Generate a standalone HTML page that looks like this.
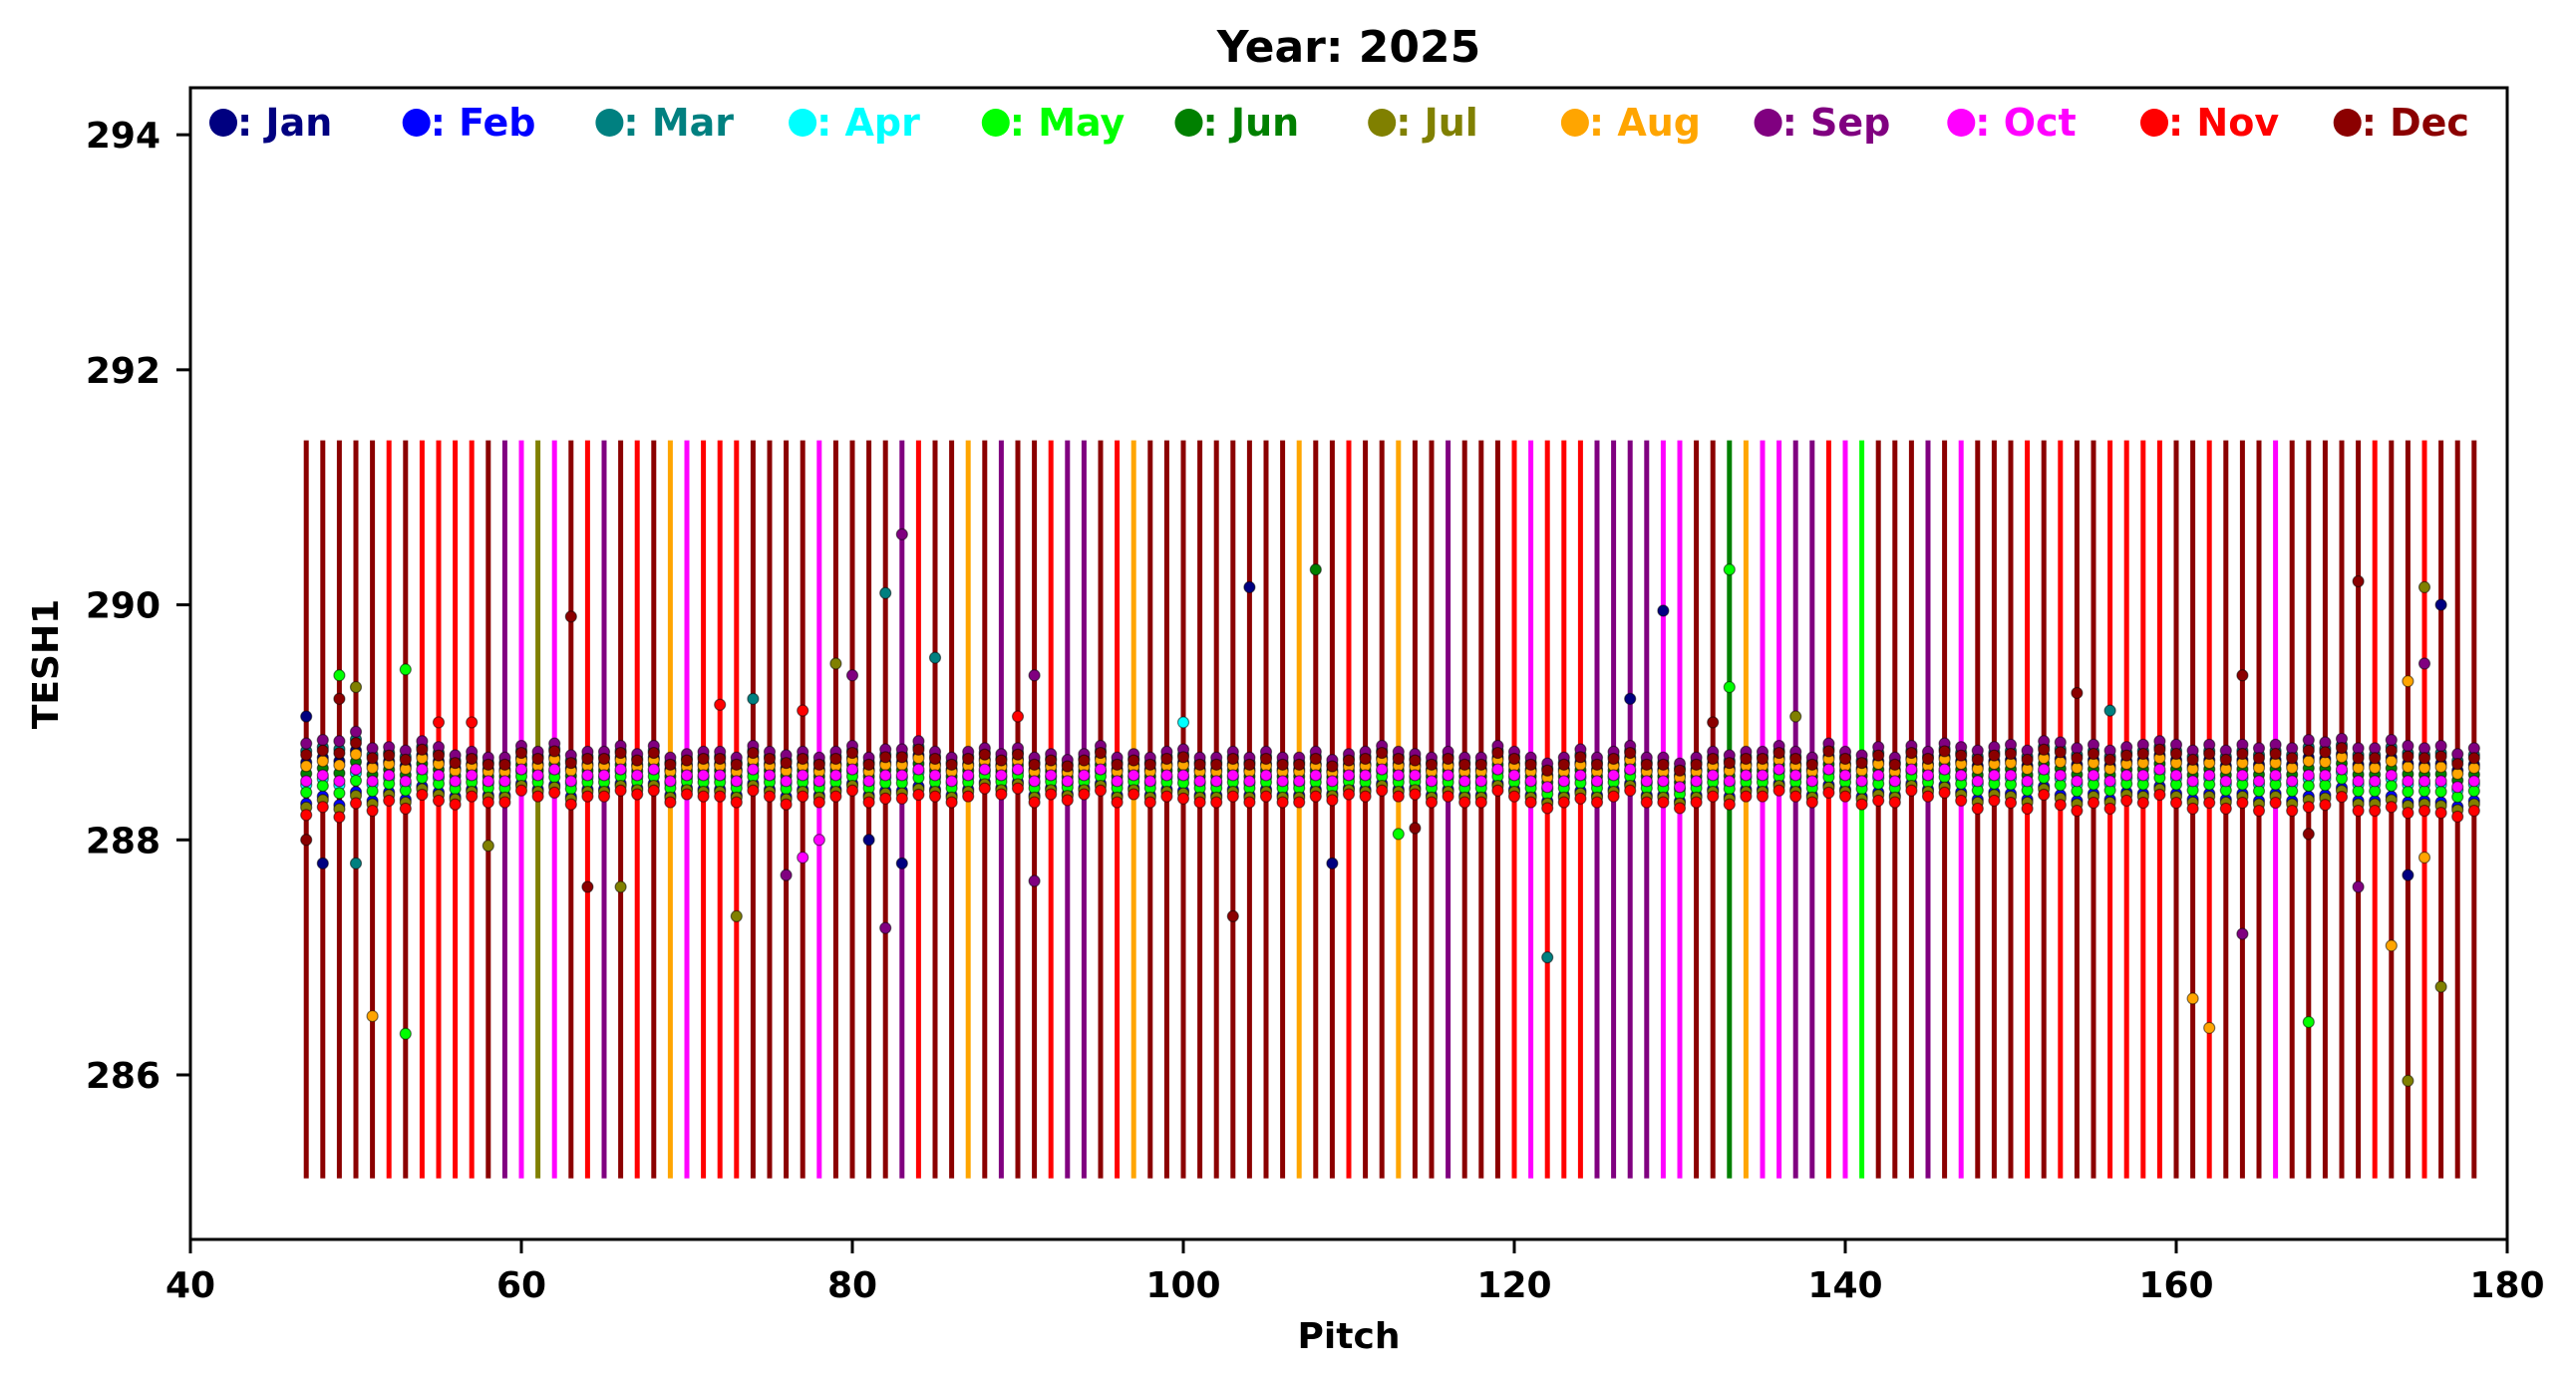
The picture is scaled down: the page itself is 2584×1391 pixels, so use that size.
<!DOCTYPE html>
<html><head><meta charset="utf-8"><style>
html,body{margin:0;padding:0;background:#fff;}
svg{display:block;font-family:"DejaVu Sans","Liberation Sans",sans-serif;font-weight:bold;}
</style></head><body>
<svg id="chart" width="2584" height="1391" viewBox="0 0 2584 1391" xmlns="http://www.w3.org/2000/svg">
<rect width="2584" height="1391" fill="#fff"/>
<text x="1353" y="62" font-size="44" text-anchor="middle">Year: 2025</text>
<g id="lines"></g>
<g id="points"></g>
<rect x="191" y="88" width="2324" height="1155" fill="none" stroke="#000" stroke-width="3"/>
<g id="xticks"></g>
<g id="yticks"></g>
<text x="1353" y="1352" font-size="36" text-anchor="middle">Pitch</text>
<text x="0" y="0" font-size="36" text-anchor="middle" transform="translate(58,666) rotate(-90)">TESH1</text>
<g id="legend"></g>
</svg>
<script>
const monthNames = ["Jan","Feb","Mar","Apr","May","Jun","Jul","Aug","Sep","Oct","Nov","Dec"];
const monthColors = ["#000080","#0000ff","#008080","#00ffff","#00ff00","#008000","#808000","#ffa500","#800080","#ff00ff","#ff0000","#8b0000"];
const xTicks = [40,60,80,100,120,140,160,180];
const yTicks = [286,288,290,292,294];
const pitchStart = 47;
const lineMonth = [12,12,12,12,12,11,12,11,11,11, 11,12,9,10,7,10,12,11,9,12, 11,12,8,10,11,11,11,12,12,12, 12,10,12,12,12,12,9,11,12,12, 8,12,9,12,12,11,9,9,12,11, 8,12,12,12,12,12,12,12,12,12, 8,12,12,11,12,12,
 8,12,12,9,12,12,12,11,10,11, 11,11,9,9,9,9,10,10,12,12, 6,8,10,10,9,9,11,10,5,12, 12,12,9,12,10,12,12,12,11,12, 11,12,12,11,11,11,11,12,12,11, 12,12,12,10,12,12,12,12,12,11, 12,12,11,12,12,12];
const lineLow = 285.12;
const lineHigh = 291.4;
const clusterMid = [288.5,288.55,288.5,288.6,288.5,288.55,288.5,288.6,288.55,288.5, 288.55,288.5,288.5,288.6,288.55,288.6,288.5,288.55,288.55,288.6, 288.55,288.6,288.5,288.55,288.55,288.55,288.5,288.6,288.55,288.5, 288.55,288.5,288.55,288.6,288.5,288.55,288.55,288.6,288.55,288.5, 288.55,288.6,288.55,288.6,288.5,288.55,288.5,288.55,288.6,288.5, 288.55,288.5,288.55,288.55,288.5,288.5,288.55,288.5,288.55,288.5,
 288.5,288.55,288.5,288.55,288.55,288.6,288.55,288.55,288.5,288.55, 288.5,288.5,288.6,288.55,288.5,288.45,288.5,288.55,288.5,288.55, 288.6,288.5,288.5,288.45,288.5,288.55,288.5,288.55,288.55,288.6, 288.55,288.5,288.6,288.55,288.5,288.55,288.5,288.6,288.55,288.6, 288.55,288.5,288.55,288.55,288.5,288.6,288.55,288.5,288.55,288.5, 288.55,288.55,288.6,288.55,288.5,288.55,288.5,288.55,288.5,288.55, 288.5,288.55,288.55,288.6,288.5,288.5,288.55,288.5,288.5,288.5, 288.45,288.5];
const clusterSpread = [1.6,1.5,1.7,1.6,1.4,1.2,1.3,1.2,1.2,1.1, 1.0,1.0,1.0,1.0,1.0,1.1,1.1,1.0,1.0,1.0, 0.9,1.0,1.0,0.9,1.0,1.0,1.0,1.0,1.0,1.1, 1.0,1.0,1.0,1.0,1.0,1.1,1.1,1.2,1.0,1.0, 1.0,0.9,0.9,0.9,1.0,0.9,0.9,0.9,1.0,1.0, 0.9,1.0,1.0,1.1,1.0,1.0,1.0,1.0,1.0,1.0,
 1.0,1.0,0.9,0.9,1.0,1.0,1.0,0.9,1.0,1.0, 1.0,1.0,1.0,1.0,1.0,1.0,1.0,1.1,1.0,1.0, 1.0,1.0,1.0,1.0,1.0,1.0,1.1,1.0,1.0,1.0, 1.0,1.0,1.1,1.0,1.1,1.2,1.0,1.0,1.0,1.1, 1.2,1.3,1.2,1.3,1.3,1.2,1.4,1.4,1.3,1.3, 1.2,1.3,1.2,1.3,1.3,1.3,1.3,1.3,1.4,1.3, 1.4,1.5,1.4,1.3,1.4,1.4,1.5,1.5,1.4,1.5, 1.4,1.4];
const monthOffset = [0.1,-0.12,0.16,-0.02,-0.06,0.04,-0.14,0.08,0.2,0.0,-0.18,0.14];
const outPitch = [47,47,48,49,49,50,50,51,53,53,55,57,58,63,64,66,72,73,74,76,77,77,78,79,80,81,82,82,83,83,85,90,91,91,100,103,104,108,109,113,114,122,127,129,132,133,133,137,154,156,161,162,164,164,168,168,171,171,173,174,174,174,175,175,176,176,175];
const outValue = [289.05,288.0,287.8,289.4,289.2,289.3,287.8,286.5,289.45,286.35,289.0,289.0,287.95,289.9,287.6,287.6,289.15,287.35,289.2,287.7,289.1,287.85,288.0,289.5,289.4,288.0,290.1,287.25,290.6,287.8,289.55,289.05,289.4,287.65,289.0,287.35,290.15,290.3,287.8,288.05,288.1,287.0,289.2,289.95,289.0,290.3,289.3,289.05,289.25,289.1,286.65,286.4,289.4,287.2,286.45,288.05,290.2,287.6,287.1,289.35,287.7,285.95,290.15,289.5,290.0,286.75,287.85];
const outMonth = [1,12,1,5,12,7,3,8,5,5,11,11,7,12,12,7,11,7,3,9,11,10,10,7,9,1,3,9,9,1,3,11,9,9,4,12,1,6,1,5,12,3,1,1,12,5,5,7,12,3,8,8,12,9,5,12,12,9,8,8,1,7,7,9,1,7,8];

const X0=191, X1=2515, Y0=1243, Y1=88;
const xMin=40, xMax=180, yMin=284.6, yMax=294.4;
function sx(v){return X0+(v-xMin)/(xMax-xMin)*(X1-X0);}
function sy(v){return Y0-(v-yMin)/(yMax-yMin)*(Y0-Y1);}
const NS="http://www.w3.org/2000/svg";
function mk(tag, attrs, parent){const e=document.createElementNS(NS,tag);for(const k in attrs)e.setAttribute(k,attrs[k]);parent.appendChild(e);return e;}

const gL=document.getElementById('lines');
lineMonth.forEach((m,i)=>{
  const p=pitchStart+i;
  const l=mk('line',{x1:sx(p),x2:sx(p),y1:sy(lineLow),y2:sy(lineHigh),stroke:monthColors[m-1],'stroke-width':5},gL);
  
  
});
const gP=document.getElementById('points');
clusterMid.forEach((mid,i)=>{
  const p=pitchStart+i;
  monthOffset.forEach((o,m)=>{
    const c=mk('circle',{cx:sx(p),cy:sy(mid+o*clusterSpread[i]),r:5.5,fill:monthColors[m],stroke:'rgba(0,0,0,0.5)','stroke-width':1.2},gP);
    
    
  });
});
outPitch.forEach((p,i)=>{
  const c=mk('circle',{cx:sx(p),cy:sy(outValue[i]),r:5.5,fill:monthColors[outMonth[i]-1],stroke:'rgba(0,0,0,0.5)','stroke-width':1.2},gP);
  
  
});
const gX=document.getElementById('xticks');
xTicks.forEach(t=>{
  const tk=mk('line',{x1:sx(t),x2:sx(t),y1:Y0,y2:Y0+14,stroke:'#000','stroke-width':3},gX);
  
  
  const tx=mk('text',{x:sx(t),y:Y0+58,'font-size':36,'text-anchor':'middle'},gX);
  tx.textContent=t;
  
  
});
const gY=document.getElementById('yticks');
yTicks.forEach(t=>{
  const tk=mk('line',{x1:X0-14,x2:X0,y1:sy(t),y2:sy(t),stroke:'#000','stroke-width':3},gY);
  
  
  const tx=mk('text',{x:X0-30,y:sy(t)+13,'font-size':36,'text-anchor':'end'},gY);
  tx.textContent=t;
  
  
});
const gLeg=document.getElementById('legend');
monthNames.forEach((n,i)=>{
  const x=224+i*193.7;
  const g=mk('g',{},gLeg);
  
  
  mk('ellipse',{cx:x,cy:123,rx:14,ry:14,fill:monthColors[i]},g);
  const t=mk('text',{x:x+14,y:136,'font-size':38,fill:monthColors[i]},g);
  t.textContent=': '+n;
});
</script>
</body></html>
